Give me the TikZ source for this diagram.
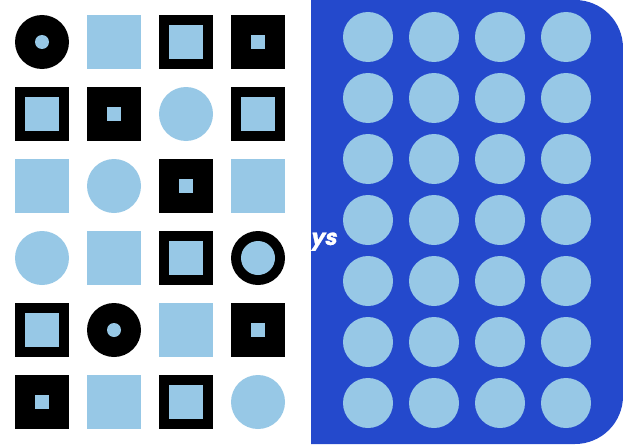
\documentclass[tikz,border=0pt]{standalone}
\usepackage{fontspec}
\newfontfamily\popfont{Poppins}[FakeSlant=0.2, FakeBold=1.2]
\definecolor{lb}{RGB}{151,200,230}
\definecolor{panel}{RGB}{36,73,204}
\tikzset{
  cs/.pic={\fill[black] (0,0) circle (27pt); \fill[lb] (0,0) circle (7pt);},
  cb/.pic={\fill[black] (0,0) circle (27pt); \fill[lb] (0,0) circle (17pt);},
  ss/.pic={\fill[black] (-27,-27) rectangle (27,27); \fill[lb] (-7,-7) rectangle (7,7);},
  sb/.pic={\fill[black] (-27,-27) rectangle (27,27); \fill[lb] (-17,-17) rectangle (17,17);},
  bs/.pic={\fill[lb] (-27,-27) rectangle (27,27);},
  bc/.pic={\fill[lb] (0,0) circle (27pt);},
  dot/.style={fill=lb}
}
\begin{document}
\begin{tikzpicture}[x=1pt,y=-1pt]
\fill[white] (0,0) rectangle (623,444);
\useasboundingbox (0,0) rectangle (623,444);
% left grid
\foreach \t [count=\i from 0] in {cs,bs,sb,ss, sb,ss,bc,sb, bs,bc,ss,bs, bc,bs,sb,cb, sb,cs,bs,ss, ss,bs,sb,bc}{
  \pgfmathtruncatemacro{\cc}{mod(\i,4)}
  \pgfmathtruncatemacro{\rr}{div(\i,4)}
  \pic at ({42+72*\cc},{42+72*\rr}) {\t};
}
% right panel
\fill[panel] (311,0) [rounded corners=48pt] -- (623,0) -- (623,444) [sharp corners] -- (311,444) -- cycle;
\foreach \r in {0,...,6}{
  \foreach \c in {0,...,3}{
    \fill[dot] ({368+66*\c},{37+61*\r}) circle (25pt);
  }
}
\begin{scope}
\clip (311,0) rectangle (623,444);
\node[text=white, anchor=base west, inner sep=0pt, font=\popfont\bfseries\fontsize{22}{26}\selectfont] (vs) at (310,245) {ys};
\end{scope}
\end{tikzpicture}
\end{document}
